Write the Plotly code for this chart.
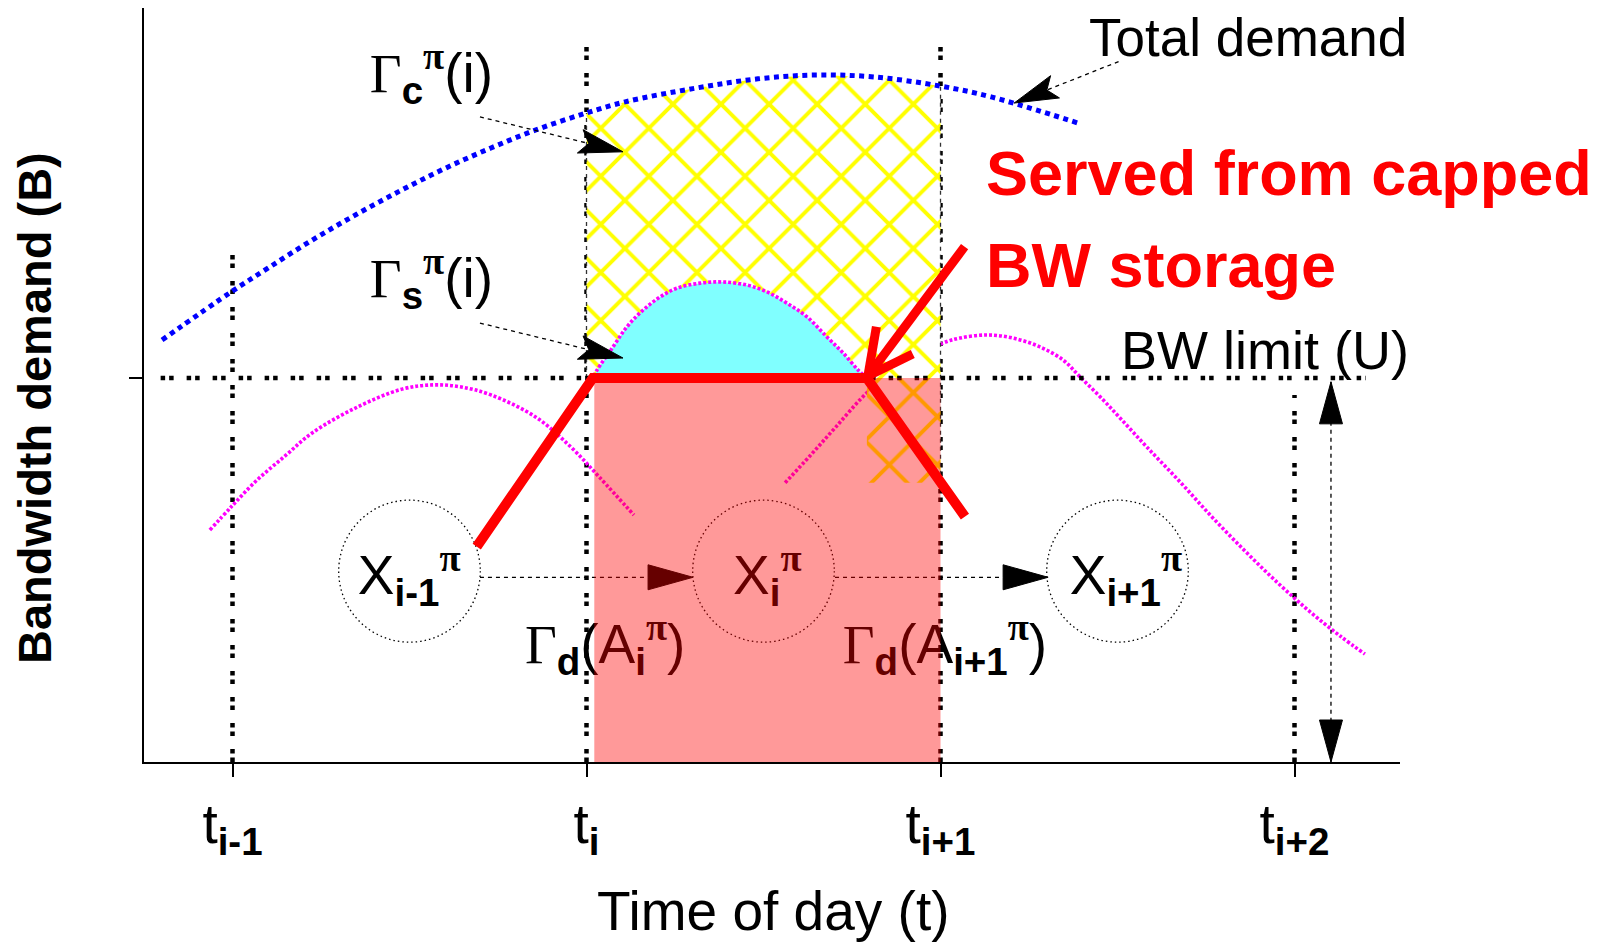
import numpy as np
import plotly.graph_objects as go

# ---------------- data (diagram units: x = time slots, y = multiples of the BW limit U) ----
t_vals = [1, 2, 3, 4]
t_labels = ["t<sub><b>i-1</b></sub>", "t<sub><b>i</b></sub>",
            "t<sub><b>i+1</b></sub>", "t<sub><b>i+2</b></sub>"]
U = 1.0

# total demand (blue dotted)
demand_x = [0.801, 0.996, 1.100, 1.225, 1.352, 1.479, 1.603, 1.730, 1.857, 1.999,
            2.109, 2.309, 2.484, 2.648, 2.812, 3.001, 3.143, 3.388]
demand_y = [1.099, 1.224, 1.286, 1.359, 1.427, 1.490, 1.547, 1.599, 1.646, 1.690,
            1.719, 1.755, 1.779, 1.789, 1.784, 1.760, 1.732, 1.664]

# per-slot demand (magenta dotted)
prev_x = [0.936, 0.996, 1.069, 1.151, 1.225, 1.352, 1.479, 1.566, 1.643, 1.730,
          1.857, 1.956, 2.038, 2.134]
prev_y = [0.604, 0.664, 0.734, 0.799, 0.857, 0.924, 0.971, 0.982, 0.977, 0.956,
          0.898, 0.820, 0.740, 0.643]
cur_x = [2.021, 2.030, 2.075, 2.114, 2.160, 2.208, 2.256, 2.321, 2.386, 2.453,
         2.510, 2.566, 2.623, 2.679, 2.725, 2.767, 2.792]
cur_y = [1.005, 1.021, 1.081, 1.133, 1.177, 1.211, 1.234, 1.247, 1.250, 1.242,
         1.224, 1.195, 1.159, 1.107, 1.065, 1.021, 1.000]
next_x = [2.561, 2.631, 2.702, 2.795, 2.886, 3.007, 3.055, 3.131, 3.205, 3.281,
          3.346, 3.394, 3.451, 3.507, 3.583, 3.677, 3.770, 3.866, 3.959, 4.044,
          4.129, 4.199]
next_y = [0.727, 0.797, 0.870, 0.964, 1.031, 1.091, 1.104, 1.112, 1.104, 1.081,
          1.047, 1.003, 0.951, 0.896, 0.820, 0.729, 0.635, 0.544, 0.461, 0.391,
          0.328, 0.281]

# served bandwidth (thick red)
served_x = [1.690, 2.018, 2.792, 3.069]
served_y = [0.561, 1.000, 1.000, 0.639]

# regions
capped_x = [2.022, 3.0]          # salmon box, from 0 to U
hatch_corner_x = 2.792
hatch_low_y = 0.727

# guide lines
vline_top = [1.354, 1.876, 1.876, 0.956]
bw_span = [0.797, 4.201]

# states
state_x = [1.5, 2.5, 3.5]
state_y = 0.497
state_rx, state_ry = 0.200, 0.185

# arrows: (x0, y0, x1, y1, head length px, head half-width px, notch)
flow_arrows = [(1.699, 0.481, 2.301, 0.481, 45, 12.5, 1.0),
               (2.702, 0.481, 3.304, 0.481, 45, 12.5, 1.0)]
pointer_arrows = [(1.699, 1.680, 2.103, 1.589, 44, 12, 0.8),
                  (1.699, 1.143, 2.103, 1.052, 44, 12, 0.8),
                  (3.503, 1.824, 3.208, 1.716, 44, 12, 0.8)]
range_arrow_x = 4.103
range_arrow_y = [0.990, 0.0]
red_arrow = (3.068, 1.342, 2.795, 1.005)

# labels
PI = '<span style="font-family:Liberation Serif"><b>π</b></span>'
GAMMA = '<span style="font-family:Liberation Serif">Γ</span>'
label_text = [
    GAMMA + "<sub><b>c</b></sub><sup>" + PI + "</sup>(i)",
    GAMMA + "<sub><b>s</b></sub><sup>" + PI + "</sup>(i)",
    "X<sub><b>i-1</b></sub><sup>" + PI + "</sup>",
    "X<sub><b>i</b></sub><sup>" + PI + "</sup>",
    "X<sub><b>i+1</b></sub><sup>" + PI + "</sup>",
    GAMMA + "<sub><b>d</b></sub>(A<sub><b>i</b></sub><sup>" + PI + "</sup>)",
    GAMMA + "<sub><b>d</b></sub>(A<sub><b>i+1</b></sub><sup>" + PI + "</sup>)",
]
label_x = [1.388, 1.388, 1.354, 2.414, 3.365, 1.826, 2.724]
label_y = [1.780, 1.246, 0.473, 0.473, 0.473, 0.293, 0.293]

# ---------------- geometry (page has an 8 px body margin) ----------------
W, H = 1604, 936
ML, MR, MT, MB = 136, 212, 0, 182
X_RANGE = [0.75, 4.298]
Y_RANGE = [0.0, 1.9635]
SX = (W - ML - MR) / (X_RANGE[1] - X_RANGE[0])
SY = (H - MT - MB) / (Y_RANGE[1] - Y_RANGE[0])


def head(x0, y0, x1, y1, L, Hw, notch):
    p0 = np.array([x0 * SX, y0 * SY])
    p1 = np.array([x1 * SX, y1 * SY])
    d = (p1 - p0) / np.linalg.norm(p1 - p0)
    n = np.array([-d[1], d[0]])
    back = p1 - d * L
    neck = p1 - d * L * notch
    pts = [p1, back + n * Hw, neck, back - n * Hw, p1]
    return ([p[0] / SX for p in pts], [p[1] / SY for p in pts],
            (neck[0] / SX, neck[1] / SY))


DOTS = "4.5px,4px,4.5px,13px"
MAG = dict(color="#ff00ff", width=3.6, dash="3px,2px")
fig = go.Figure()

# vertical slot lines
vx, vy = [], []
for t, top in zip(t_vals, vline_top):
    vx += [t, t, None]
    vy += [0, top, None]
fig.add_trace(go.Scatter(x=vx, y=vy, mode="lines",
                         line=dict(color="black", width=4.5, dash=DOTS)))

# next slot demand (partly hidden by hatch)
fig.add_trace(go.Scatter(x=next_x, y=next_y, mode="lines", line_shape="spline", line=MAG))

# hatched capped region
top_x = [2.0] + [x for x in demand_x if 2.0 < x < 3.0] + [3.0]
top_y = list(np.interp(top_x, demand_x, demand_y))
hx = top_x + [3.0, hatch_corner_x, hatch_corner_x, 2.0, 2.0]
hy = top_y + [hatch_low_y, hatch_low_y, U, U, top_y[0]]
fig.add_trace(go.Scatter(x=hx, y=hy, mode="lines", fill="toself",
                         fillcolor="white", line=dict(width=0),
                         fillpattern=dict(shape="x", size=34, solidity=0.22,
                                          fgcolor="#ffff00", bgcolor="white",
                                          fgopacity=1)))
fig.add_trace(go.Scatter(x=[2, 2, None, 3, 3],
                         y=[U, top_y[0], None, hatch_low_y, top_y[-1]],
                         mode="lines", line=dict(color="#333333", width=1.3, dash="4px,4px")))

# cyan storage region
fig.add_trace(go.Scatter(x=cur_x + [cur_x[-1], cur_x[0]], y=cur_y + [U, U],
                         mode="lines", fill="toself", fillcolor="#80ffff",
                         line=dict(width=0)))
for xs, ys in [(cur_x, cur_y), (prev_x, prev_y)]:
    fig.add_trace(go.Scatter(x=xs, y=ys, mode="lines", line_shape="spline", line=MAG))

# total demand
fig.add_trace(go.Scatter(x=demand_x, y=demand_y, mode="lines", line_shape="spline",
                         line=dict(color="#0000ff", width=5, dash="5px,4.5px")))

# BW limit
fig.add_trace(go.Scatter(x=bw_span, y=[U, U], mode="lines",
                         line=dict(color="black", width=4.5, dash=DOTS)))

# labels inside plot
fig.add_trace(go.Scatter(x=label_x, y=label_y, mode="text", text=label_text,
                         textposition="middle right",
                         textfont=dict(size=55, color="black",
                                       family="Liberation Sans, Arial, sans-serif")))

# arrows (dashed shafts and black heads)
for (x0, y0, x1, y1, L, Hw, nt) in flow_arrows + pointer_arrows:
    hxs, hys, neck = head(x0, y0, x1, y1, L, Hw, nt)
    fig.add_trace(go.Scatter(x=[x0, neck[0]], y=[y0, neck[1]], mode="lines",
                             line=dict(color="black", width=1.3, dash="4px,4px")))
    fig.add_trace(go.Scatter(x=hxs, y=hys, mode="lines", fill="toself",
                             fillcolor="black", line=dict(color="black", width=1)))

fig.add_trace(go.Scatter(x=[range_arrow_x, range_arrow_x], y=range_arrow_y, mode="lines",
                         line=dict(color="black", width=1.3, dash="4px,4px")))
mid = 0.5 * (range_arrow_y[0] + range_arrow_y[1])
for yt in range_arrow_y:
    hxs, hys, _ = head(range_arrow_x, mid, range_arrow_x, yt, 42, 11.5, 1.0)
    fig.add_trace(go.Scatter(x=hxs, y=hys, mode="lines", fill="toself",
                             fillcolor="black", line=dict(color="black", width=1)))

# capped bandwidth box (translucent red)
fig.add_trace(go.Scatter(x=[capped_x[0], capped_x[1], capped_x[1], capped_x[0], capped_x[0]],
                         y=[0, 0, U, U, 0], mode="lines", fill="toself",
                         fillcolor="rgba(255,0,0,0.4)", line=dict(width=0)))

# served bandwidth
fig.add_trace(go.Scatter(x=served_x, y=served_y, mode="lines",
                         line=dict(color="#ff0000", width=10)))

# red pointer arrow with open head
sx0, sy0, tx, ty = red_arrow
p0 = np.array([sx0 * SX, sy0 * SY])
p1 = np.array([tx * SX, ty * SY])
bdir = (p0 - p1) / np.linalg.norm(p0 - p1)
arms_x, arms_y = [], []
for ang in (np.radians(27), np.radians(-27)):
    rot = np.array([[np.cos(ang), -np.sin(ang)], [np.sin(ang), np.cos(ang)]])
    e = p1 + rot @ bdir * 50
    arms_x += [e[0] / SX, tx, None]
    arms_y += [e[1] / SY, ty, None]
fig.add_trace(go.Scatter(x=[sx0, tx, None] + arms_x, y=[sy0, ty, None] + arms_y,
                         mode="lines", line=dict(color="#ff0000", width=9)))

# state circles
shapes = []
for cx in state_x:
    shapes.append(dict(type="circle", xref="x", yref="y", layer="below",
                       x0=cx - state_rx, x1=cx + state_rx,
                       y0=state_y - state_ry, y1=state_y + state_ry,
                       line=dict(color="black", width=1.3, dash="1.5px,3px")))

annotations = [
    dict(x=3.413, y=1.887, text="Total demand", font=dict(size=53)),
    dict(x=3.505, y=1.074, text="BW limit (U)", font=dict(size=54)),
    dict(x=3.123, y=1.534, text="<b>Served from capped</b>",
         font=dict(size=63, color="#ff0000")),
    dict(x=3.123, y=1.295, text="<b>BW storage</b>",
         font=dict(size=63, color="#ff0000")),
]
for a in annotations:
    a.update(xref="x", yref="y", xanchor="left", yanchor="middle", showarrow=False)
annotations += [
    dict(x=0.5008, y=-0.1976, xref="paper", yref="paper", text="Time of day (t)",
         font=dict(size=55), showarrow=False, xanchor="center", yanchor="middle"),
    dict(x=-0.0868, y=0.4695, xref="paper", yref="paper",
         text="<b>Bandwidth demand (B)</b>",
         font=dict(size=47), textangle=-90, showarrow=False,
         xanchor="center", yanchor="middle"),
]

fig.update_traces(hoverinfo="skip", showlegend=False)
fig.update_layout(
    width=W, height=H,
    margin=dict(l=ML, r=MR, t=MT, b=MB, pad=0),
    paper_bgcolor="white", plot_bgcolor="white", showlegend=False,
    font=dict(family="Liberation Sans, Arial, sans-serif", color="black", size=54),
    shapes=shapes, annotations=annotations,
)
fig.update_xaxes(range=X_RANGE, showgrid=False, zeroline=False, showline=True,
                 linecolor="black", linewidth=2, ticks="outside", ticklen=13,
                 tickwidth=2, tickcolor="black", tickvals=t_vals, ticktext=t_labels,
                 tickfont=dict(size=55), ticklabelstandoff=0)
fig.update_yaxes(range=Y_RANGE, showgrid=False, zeroline=False, showline=True,
                 linecolor="black", linewidth=2, ticks="outside", ticklen=13,
                 tickwidth=2, tickcolor="black", tickvals=[U], ticktext=[""])

fig.write_html("out.html", config={"displayModeBar": False})
